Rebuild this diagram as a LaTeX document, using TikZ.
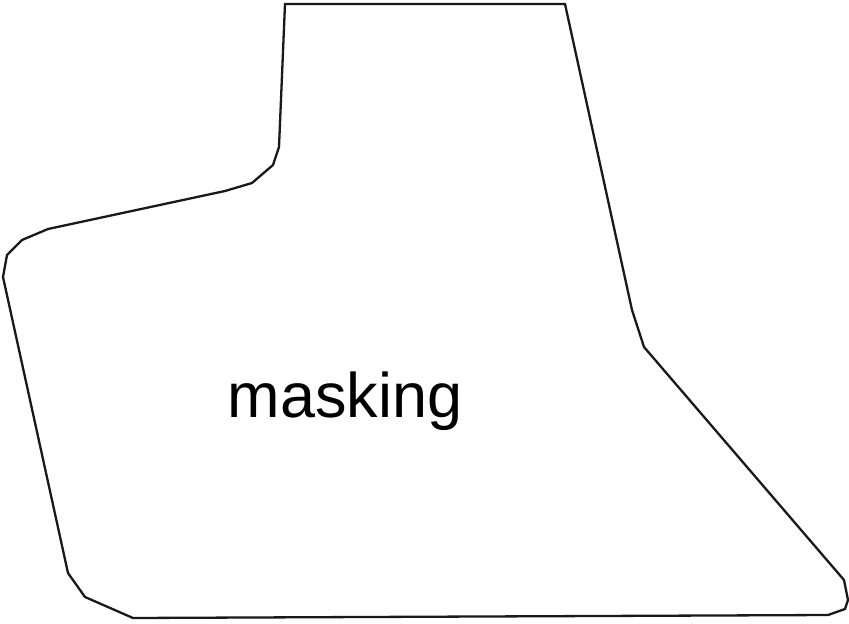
\documentclass[tikz,border=0pt]{standalone}
\usepackage{fontspec}
\setmainfont{Liberation Sans}
\begin{document}
\begin{tikzpicture}[x=1pt,y=-1pt,
  outline/.style={draw=black!90, line width=2.3pt, line join=miter},
  lbl/.style={font=\fontsize{63}{70}\selectfont, inner sep=0pt}]
\useasboundingbox (0,0) rectangle (849,624);
\draw[outline] (285,4) -- (565,4) -- (632,310) -- (644,347) -- (844,580) -- (848,600) -- (845,609) -- (828,615) -- (133,618) -- (85,597) -- (68,573) -- (3,277) -- (7,255) -- (22,240) -- (48,229) -- (225,191) -- (252,183) -- (273,165) -- (279,147) -- cycle;
\node[lbl] (t) at (345,401) {masking};
\end{tikzpicture}
\end{document}
